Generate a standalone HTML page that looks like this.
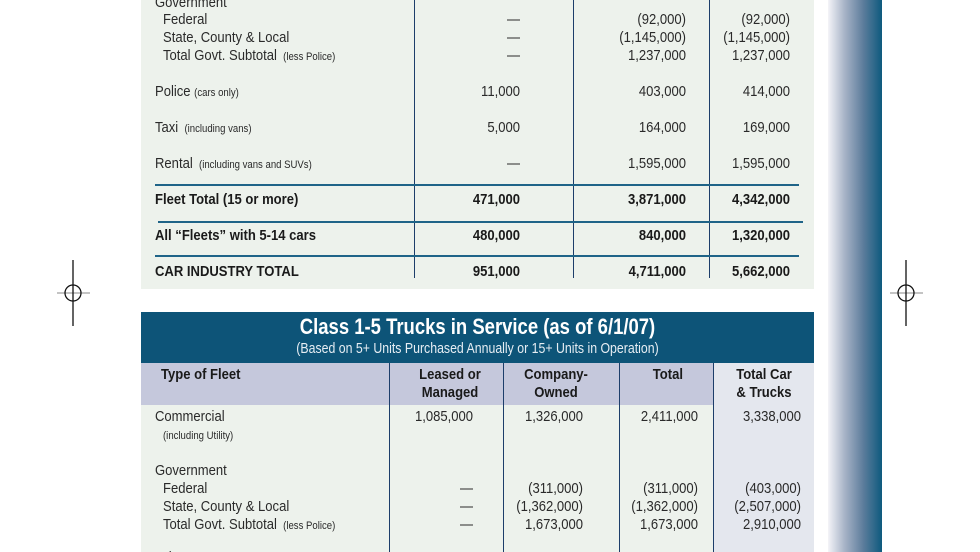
<!DOCTYPE html>
<html><head><meta charset="utf-8"><style>
html,body{margin:0;width:980px;height:552px;overflow:hidden}
body{background:#fff;position:relative;font-family:"Liberation Sans",sans-serif;color:#2a2a2a}
div{position:absolute}
.t{height:18px;line-height:18px;font-size:15px;white-space:nowrap;transform:scaleX(0.87);transform-origin:left center}
.r{text-align:right;transform-origin:right center}
.c{text-align:center;transform-origin:center center}
.b{font-weight:bold;color:#1a1a1a}
.s{font-size:11px}
.v{width:1px;background:#1d3e6a}
.h{height:2px;background:#1f6488}
</style></head><body>
<div style="left:141px;top:0;width:673px;height:289px;background:#edf2ec"></div>
<div class="v" style="left:414px;top:0;height:278px"></div>
<div class="v" style="left:573px;top:0;height:278px"></div>
<div class="v" style="left:709px;top:0;height:278px"></div>
<div class="h" style="left:155px;top:184px;width:644px"></div>
<div class="h" style="left:158px;top:221px;width:645px"></div>
<div class="h" style="left:155px;top:255px;width:644px"></div>

<div class="t" style="left:155px;top:-6px">Government</div>
<div class="t" style="left:163px;top:11px">Federal</div>
<div class="t" style="left:163px;top:29px">State, County &amp; Local</div>
<div class="t" style="left:163px;top:47px">Total Govt. Subtotal <span class="s">&nbsp;(less Police)</span></div>
<div class="t" style="left:155px;top:83px">Police <span class="s">(cars only)</span></div>
<div class="t" style="left:155px;top:119px">Taxi <span class="s">&nbsp;(including vans)</span></div>
<div class="t" style="left:155px;top:155px">Rental <span class="s">&nbsp;(including vans and SUVs)</span></div>
<div class="t b" style="left:155px;top:191px">Fleet Total (15 or more)</div>
<div class="t b" style="left:155px;top:227px">All “Fleets” with 5-14 cars</div>
<div class="t b" style="left:155px;top:263px">CAR INDUSTRY TOTAL</div>

<div class="t r" style="left:420px;width:100px;top:11px">—</div>
<div class="t r" style="left:420px;width:100px;top:29px">—</div>
<div class="t r" style="left:420px;width:100px;top:47px">—</div>
<div class="t r" style="left:420px;width:100px;top:83px">11,000</div>
<div class="t r" style="left:420px;width:100px;top:119px">5,000</div>
<div class="t r" style="left:420px;width:100px;top:155px">—</div>
<div class="t r b" style="left:420px;width:100px;top:191px">471,000</div>
<div class="t r b" style="left:420px;width:100px;top:227px">480,000</div>
<div class="t r b" style="left:420px;width:100px;top:263px">951,000</div>

<div class="t r" style="left:576px;width:110px;top:11px">(92,000)</div>
<div class="t r" style="left:576px;width:110px;top:29px">(1,145,000)</div>
<div class="t r" style="left:576px;width:110px;top:47px">1,237,000</div>
<div class="t r" style="left:576px;width:110px;top:83px">403,000</div>
<div class="t r" style="left:576px;width:110px;top:119px">164,000</div>
<div class="t r" style="left:576px;width:110px;top:155px">1,595,000</div>
<div class="t r b" style="left:576px;width:110px;top:191px">3,871,000</div>
<div class="t r b" style="left:576px;width:110px;top:227px">840,000</div>
<div class="t r b" style="left:576px;width:110px;top:263px">4,711,000</div>

<div class="t r" style="left:690px;width:100px;top:11px">(92,000)</div>
<div class="t r" style="left:690px;width:100px;top:29px">(1,145,000)</div>
<div class="t r" style="left:690px;width:100px;top:47px">1,237,000</div>
<div class="t r" style="left:690px;width:100px;top:83px">414,000</div>
<div class="t r" style="left:690px;width:100px;top:119px">169,000</div>
<div class="t r" style="left:690px;width:100px;top:155px">1,595,000</div>
<div class="t r b" style="left:690px;width:100px;top:191px">4,342,000</div>
<div class="t r b" style="left:690px;width:100px;top:227px">1,320,000</div>
<div class="t r b" style="left:690px;width:100px;top:263px">5,662,000</div>

<div style="left:828px;top:0;width:54px;height:552px;background:linear-gradient(to right,#f4f4f8,#a9b5c8 30%,#5d7d9c 65%,#0e5a7e)"></div>

<svg style="position:absolute;left:0;top:0" width="980" height="552">
<line x1="57" y1="293" x2="90" y2="293" stroke="#888" stroke-width="1"/>
<line x1="73" y1="260" x2="73" y2="326" stroke="#111" stroke-width="1.3"/>
<circle cx="73" cy="293" r="8" fill="none" stroke="#111" stroke-width="1.3"/>
<line x1="890" y1="293" x2="923" y2="293" stroke="#888" stroke-width="1"/>
<line x1="906" y1="260" x2="906" y2="326" stroke="#111" stroke-width="1.3"/>
<circle cx="906" cy="293" r="8" fill="none" stroke="#111" stroke-width="1.3"/>
</svg>

<div style="left:141px;top:312px;width:673px;height:51px;background:#0d5478"></div>
<div class="c" style="left:141px;top:314px;width:673px;font-size:22px;line-height:26px;color:#fff;font-weight:bold;transform:scaleX(0.84)">Class 1-5 Trucks in Service (as of 6/1/07)</div>
<div class="c" style="left:141px;top:341px;width:673px;font-size:14.5px;line-height:17px;color:#e6edf3;transform:scaleX(0.85)">(Based on 5+ Units Purchased Annually or 15+ Units in Operation)</div>
<div style="left:141px;top:363px;width:572px;height:42px;background:#c5c8dc"></div>
<div style="left:141px;top:405px;width:572px;height:147px;background:#edf2ec"></div>
<div style="left:713px;top:363px;width:101px;height:189px;background:#e4e7ee"></div>
<div class="v" style="left:389px;top:363px;height:189px"></div>
<div class="v" style="left:503px;top:363px;height:189px"></div>
<div class="v" style="left:619px;top:363px;height:189px"></div>
<div class="v" style="left:713px;top:363px;height:189px"></div>

<div class="t b" style="left:161px;top:366px">Type of Fleet</div>
<div class="t b c" style="left:400px;width:100px;top:366px">Leased or</div>
<div class="t b c" style="left:400px;width:100px;top:384px">Managed</div>
<div class="t b c" style="left:506px;width:100px;top:366px">Company-</div>
<div class="t b c" style="left:506px;width:100px;top:384px">Owned</div>
<div class="t b r" style="left:620px;width:63px;top:366px">Total</div>
<div class="t b c" style="left:714px;width:100px;top:366px">Total Car</div>
<div class="t b c" style="left:714px;width:100px;top:384px">&amp; Trucks</div>

<div class="t" style="left:155px;top:408px">Commercial</div>
<div class="t s" style="left:163px;top:427px">(including Utility)</div>
<div class="t" style="left:155px;top:462px">Government</div>
<div class="t" style="left:163px;top:480px">Federal</div>
<div class="t" style="left:163px;top:498px">State, County &amp; Local</div>
<div class="t" style="left:163px;top:516px">Total Govt. Subtotal <span class="s">&nbsp;(less Police)</span></div>
<div class="t" style="left:155px;top:549px">Other</div>

<div class="t r" style="left:373px;width:100px;top:408px">1,085,000</div>
<div class="t r" style="left:373px;width:100px;top:480px">—</div>
<div class="t r" style="left:373px;width:100px;top:498px">—</div>
<div class="t r" style="left:373px;width:100px;top:516px">—</div>
<div class="t r" style="left:373px;width:100px;top:549px">5,000</div>

<div class="t r" style="left:483px;width:100px;top:408px">1,326,000</div>
<div class="t r" style="left:483px;width:100px;top:480px">(311,000)</div>
<div class="t r" style="left:483px;width:100px;top:498px">(1,362,000)</div>
<div class="t r" style="left:483px;width:100px;top:516px">1,673,000</div>
<div class="t r" style="left:483px;width:100px;top:549px">44,000</div>

<div class="t r" style="left:598px;width:100px;top:408px">2,411,000</div>
<div class="t r" style="left:598px;width:100px;top:480px">(311,000)</div>
<div class="t r" style="left:598px;width:100px;top:498px">(1,362,000)</div>
<div class="t r" style="left:598px;width:100px;top:516px">1,673,000</div>
<div class="t r" style="left:598px;width:100px;top:549px">49,000</div>

<div class="t r" style="left:701px;width:100px;top:408px">3,338,000</div>
<div class="t r" style="left:701px;width:100px;top:480px">(403,000)</div>
<div class="t r" style="left:701px;width:100px;top:498px">(2,507,000)</div>
<div class="t r" style="left:701px;width:100px;top:516px">2,910,000</div>
<div class="t r" style="left:701px;width:100px;top:549px">000,000</div>
</body></html>
